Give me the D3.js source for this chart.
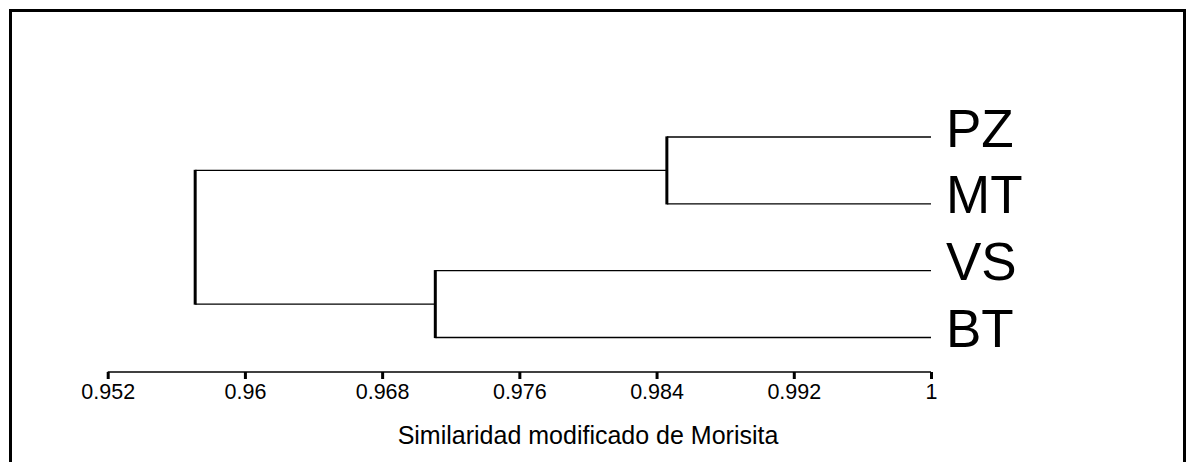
<!DOCTYPE html>
<html>
<head>
<meta charset="utf-8">
<script src="https://cdn.jsdelivr.net/npm/d3@7"></script>
<style>
  body { margin: 0; background: #fff; }
  svg { display: block; font-family: "Liberation Sans", Arial, sans-serif; }
</style>
</head>
<body>
<svg id="chart" width="1186" height="462"></svg>
<script>
// Data: leaves in display order and the merge similarities
const leaves = ["PZ", "MT", "VS", "BT"];
const merges = [
    {id: "PZ-MT", children: ["PZ", "MT"], sim: 0.9846},
    {id: "VS-BT", children: ["VS", "BT"], sim: 0.9711},
    {id: "root", children: ["PZ-MT", "VS-BT"], sim: 0.9571}
];
const tickValues = [0.952, 0.96, 0.968, 0.976, 0.984, 0.992, 1];
const axisTitle = "Similaridad modificado de Morisita";

let svg = d3.select("#chart");

// frame
svg.append("rect")
    .attr("x", 10.5).attr("y", 10.5)
    .attr("width", 1174).attr("height", 520)
    .attr("fill", "none")
    .attr("stroke", "#000")
    .attr("stroke-width", 3);

let x = d3.scaleLinear().domain([0.952, 1]).range([107.7, 931]);
let y = d3.scalePoint().domain(leaves).range([137, 337.5]);

// build hierarchy from merges
let nodes = new Map();
leaves.forEach(l => nodes.set(l, {name: l, sim: 1}));
merges.forEach(m => {
    nodes.set(m.id, {name: m.id, sim: m.sim, children: m.children.map(c => nodes.get(c))});
});
let root = d3.hierarchy(nodes.get("root"));

// positions: leaves from the point scale, internal nodes at mean of children
root.eachAfter(n => {
    n.px = x(n.data.sim);
    n.py = n.children ? d3.mean(n.children, c => c.py) : y(n.data.name);
});

let g = svg.append("g");

// horizontal links: from parent x to child x at child y
g.selectAll(".hlink")
    .data(root.links())
    .enter()
    .append("line")
    .attr("class", "hlink")
    .attr("x1", d => d.source.px)
    .attr("x2", d => d.target.px)
    .attr("y1", d => d.target.py)
    .attr("y2", d => d.target.py)
    .attr("stroke", "#000")
    .attr("stroke-width", 1.3);

// vertical joins at each internal node
g.selectAll(".vlink")
    .data(root.descendants().filter(n => n.children))
    .enter()
    .append("line")
    .attr("class", "vlink")
    .attr("x1", d => d.px)
    .attr("x2", d => d.px)
    .attr("y1", d => d3.min(d.children, c => c.py) - 0.6)
    .attr("y2", d => d3.max(d.children, c => c.py) + 0.6)
    .attr("stroke", "#000")
    .attr("stroke-width", 3);

// leaf labels
g.selectAll(".leaf")
    .data(root.leaves())
    .enter()
    .append("text")
    .attr("class", "leaf")
    .attr("x", d => d.px + 15)
    .attr("y", d => d.py + 9.5)
    .attr("font-size", 53)
    .attr("fill", "#000")
    .text(d => d.data.name);

// axis
let axisY = 372;
let axis = d3.axisBottom(x)
    .tickValues(tickValues)
    .tickSize(7)
    .tickPadding(5)
    .tickFormat(d => String(+d.toFixed(3)));

let axisG = svg.append("g")
    .attr("transform", `translate(0, ${axisY})`)
    .call(axis);
axisG.select(".domain").attr("stroke-width", 1.7).attr("d", `M${x(0.952)},0H${x(1)}`);
axisG.selectAll(".tick line").attr("stroke-width", 3);
axisG.selectAll(".tick text")
    .attr("font-size", 21.5)
    .attr("font-family", "Liberation Sans, Arial, sans-serif")
    .attr("fill", "#000");

svg.append("text")
    .attr("x", 588)
    .attr("y", 444)
    .attr("text-anchor", "middle")
    .attr("font-size", 25)
    .attr("fill", "#000")
    .text(axisTitle);
</script>
</body>
</html>
